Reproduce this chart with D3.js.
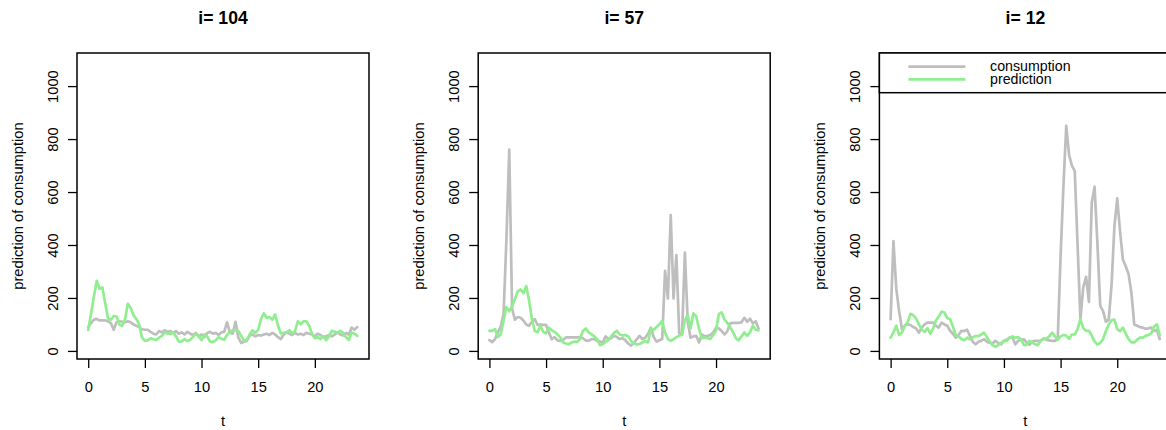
<!DOCTYPE html>
<html><head><meta charset="utf-8">
<script src="https://cdn.jsdelivr.net/npm/d3@7"></script>
<style>
body{margin:0;background:#fff;}
svg{display:block;}
text{font-family:"Liberation Sans",Arial,Helvetica,sans-serif;fill:#000;}
</style>
</head><body>
<svg id="chart" width="1166" height="430"></svg>
<script>
// ---- data ----
const panelIds = [104, 57, 12];
const timeStep = 0.25;           // hours between observations
const nObs = 96;
const xTicks = [0, 5, 10, 15, 20];
const yTicks = [0, 200, 400, 600, 800, 1000];
const legendLabels = ["consumption", "prediction"];

const cons104 = [89,105,118,121,115,115,115,112, 105,80,108,112,110,108,112,108,
  100,95,90,82,80,80,72,65, 62,75,70,78,72,75,68,75, 65,70,62,72,65,60,68,55,
  62,52,68,72,65,68,60,70, 72,108,70,65,110,50,30,35, 38,58,62,55,60,58,62,65,
  60,68,62,52,45,62,70,65, 60,68,62,65,60,68,65,62, 55,65,60,52,55,60,55,62,
  70,62,58,68,62,88,80,90];
const pred104 = [79,140,205,265,235,240,180,122, 118,132,130,100,95,120,178,162,
  135,120,100,50,38,40,48,44, 41,50,57,70,66,64,70,55, 35,36,45,37,42,53,64,55,
  41,62,55,35,33,40,52,46, 42,60,72,78,79,75,57,38, 42,62,78,68,80,120,142,125,
  128,118,138,95,66,68,70,78, 66,75,112,100,112,112,95,65, 48,52,45,55,41,55,76,72,
  68,76,68,52,41,70,65,57];

const cons57 = [41,33,45,70,92,140,420,760, 160,118,128,125,115,100,95,110,
  120,98,100,98,98,70,44,52, 40,38,42,51,51,51,51,51, 51,48,40,38,44,45,38,35,
  32,55,45,48,58,52,45,48, 40,28,20,30,44,57,45,50, 65,88,52,35,40,45,302,198,
  513,198,362,66,62,371,110,50, 55,57,32,62,55,57,60,70, 88,85,75,62,75,104,106,106,
  106,108,125,110,122,104,112,85];
const pred57 = [76,76,82,53,62,115,165,150, 170,195,225,232,218,245,190,120,
  75,70,95,72,66,88,78,72, 62,51,32,28,25,32,35,34, 45,75,85,70,63,55,44,22,
  25,35,40,55,68,76,62,58, 60,55,38,27,25,26,32,38, 32,85,80,90,100,114,70,45,
  38,44,52,57,62,115,135,85, 142,130,83,48,50,48,45,60, 76,140,145,118,105,90,70,48,
  40,55,70,57,70,95,80,78];

const cons12 = [120,415,235,150,82,95,101,98, 90,85,69,88,100,107,107,107,
  95,88,107,100,95,76,65,50, 60,76,75,80,57,35,25,35, 38,44,35,30,28,38,30,25,
  38,42,50,52,25,38,42,44, 32,23,35,38,38,38,46,42, 40,38,38,45,358,620,850,740,
  700,680,400,120,240,280,185,560, 620,406,170,150,110,118,250,470, 576,450,345,320,290,220,100,95,
  90,88,84,85,88,75,80,45];
const pred12 = [50,70,95,60,70,95,108,140, 135,122,100,80,72,86,65,85,
  115,130,148,145,124,120,92,60, 55,45,40,50,44,52,56,56, 62,69,52,36,22,15,22,30,
  38,38,50,55,50,52,45,23, 23,38,32,25,22,38,48,46, 55,69,55,42,55,60,58,46,
  62,62,82,120,86,76,76,58, 35,24,30,45,75,100,116,118, 82,75,88,65,45,32,32,42,
  50,50,57,60,66,92,100,60];

const consumption = [cons104, cons57, cons12];
const prediction = [pred104, pred57, pred12];

// ---- layout ----
const W = 1166, H = 430;
const boxLeft0 = 77, boxStep = 401.2, boxW = 292, boxTop = 53, boxBottom = 359;
const fontSize = 14.7, titleSize = 17.6;
const grayCol = "#bebebe", greenCol = "#90ee90";

const svg = d3.select("#chart");
svg.append("rect").attr("width", W).attr("height", H).attr("fill", "#fff");

const times = d3.range(nObs).map(i => i * timeStep);

const x = d3.scaleLinear().domain([-0.99, 24.78]).range([0, boxW]);
const y = d3.scaleLinear().domain([-30.5, 1125]).range([boxBottom - boxTop, 0]);
const boxH = boxBottom - boxTop;

const line = d3.line()
  .x((d, i) => x(times[i]))
  .y(d => y(d));

panelIds.forEach((id, k) => {
  const left = boxLeft0 + k * boxStep;
  const g = svg.append("g").attr("transform", `translate(${left},${boxTop})`);

  const clipId = "clip" + k;
  svg.append("defs").append("clipPath").attr("id", clipId)
    .append("rect").attr("width", boxW).attr("height", boxH);

  const plot = g.append("g").attr("clip-path", `url(#${clipId})`);
  plot.append("path").datum(consumption[k])
    .attr("d", line).attr("fill", "none").attr("stroke", grayCol)
    .attr("stroke-width", 2.7).attr("stroke-linejoin", "round").attr("stroke-linecap", "round");
  plot.append("path").datum(prediction[k])
    .attr("d", line).attr("fill", "none").attr("stroke", greenCol)
    .attr("stroke-width", 2.7).attr("stroke-linejoin", "round").attr("stroke-linecap", "round");

  // x axis
  const gx = g.append("g").attr("transform", `translate(0,${boxH})`)
    .call(d3.axisBottom(x).tickValues(xTicks).tickSize(9).tickPadding(13.6).tickFormat(d3.format("d")));
  gx.select(".domain").remove();
  gx.selectAll("line").attr("stroke", "#000").attr("stroke-width", 1.3);
  gx.selectAll("text").attr("font-size", fontSize).attr("fill", "#000")
    .style("font-family", '"Liberation Sans",Arial,sans-serif');

  // y axis
  const gy = g.append("g")
    .call(d3.axisLeft(y).tickValues(yTicks).tickSize(9).tickFormat(d3.format("d")));
  gy.select(".domain").remove();
  gy.selectAll("line").attr("stroke", "#000").attr("stroke-width", 1.3);
  gy.selectAll("text").attr("font-size", fontSize).attr("fill", "#000")
    .style("font-family", '"Liberation Sans",Arial,sans-serif')
    .attr("x", null).attr("dy", null)
    .attr("text-anchor", "middle")
    .attr("transform", "translate(-19.5,0) rotate(-90)");

  // box
  g.append("rect").attr("width", boxW).attr("height", boxH)
    .attr("fill", "none").attr("stroke", "#000").attr("stroke-width", 1.5);

  // titles
  g.append("text").attr("x", boxW / 2).attr("y", 24 - boxTop)
    .attr("text-anchor", "middle").attr("font-size", titleSize).attr("font-weight", "bold")
    .text("i= " + id);
  g.append("text").attr("x", boxW / 2).attr("y", 426 - boxTop)
    .attr("text-anchor", "middle").attr("font-size", fontSize).text("t");
  g.append("text")
    .attr("transform", `translate(${23 - boxLeft0},${boxH / 2}) rotate(-90)`)
    .attr("text-anchor", "middle").attr("font-size", fontSize)
    .text("prediction of consumption");

  // legend in last panel
  if (k === panelIds.length - 1) {
    const lg = g.append("g");
    lg.append("rect").attr("x", 0).attr("y", 0).attr("width", 400).attr("height", 39.7)
      .attr("fill", "#fff").attr("stroke", "#000").attr("stroke-width", 1.5);
    const cols = [grayCol, greenCol];
    const rowsY = [13.7, 26.3];
    legendLabels.forEach((lab, j) => {
      lg.append("line").attr("x1", 29).attr("x2", 86).attr("y1", rowsY[j]).attr("y2", rowsY[j])
        .attr("stroke", cols[j]).attr("stroke-width", 2.7);
      lg.append("text").attr("x", 110.7).attr("y", rowsY[j] + 4.2)
        .attr("font-size", 14.2).text(lab);
    });
  }
});
</script>
</body></html>
